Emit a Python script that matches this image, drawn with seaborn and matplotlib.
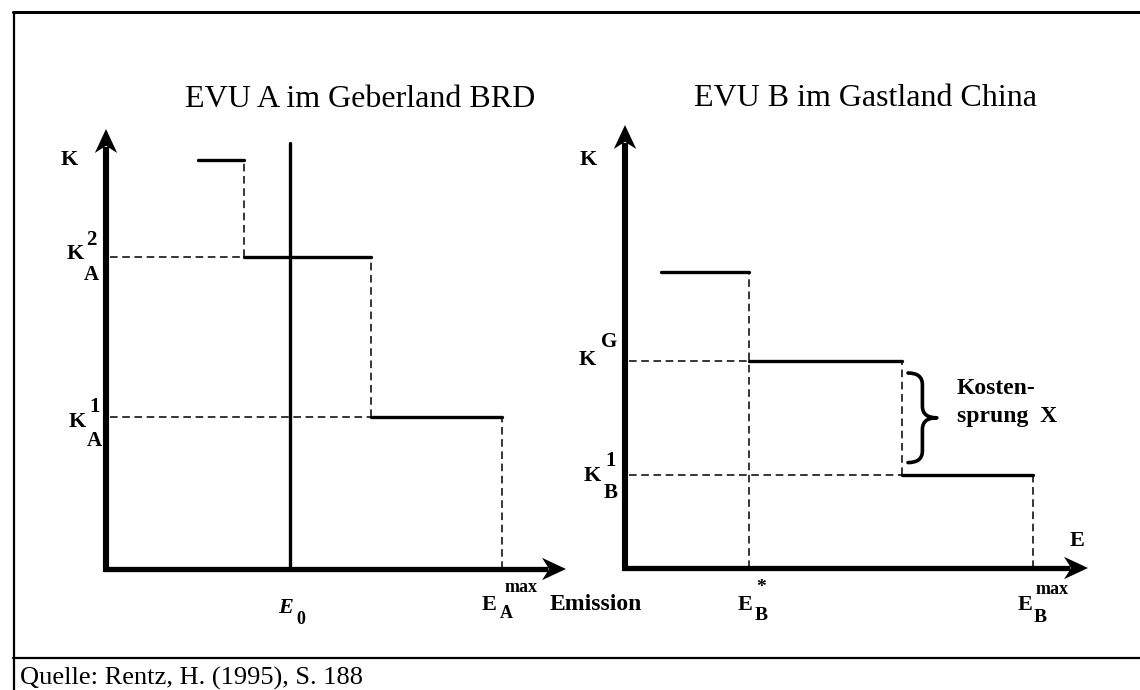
import matplotlib
matplotlib.use("Agg")
import matplotlib.pyplot as plt
import pandas as pd
import seaborn as sns
from matplotlib.lines import Line2D
from matplotlib.path import Path
from matplotlib.patches import PathPatch

# Stufenweise Vermeidungskosten K über Emission E (gleiche Einheiten in beiden Teilbildern)
a_edges = [2.3, 3.45, 6.625, 9.9]     # Stufengrenzen EVU A
a_levels = [10.225, 7.8, 3.8]          # Kostenniveaus EVU A (oberstes, K_A^2, K_A^1)
a_e0 = 4.6                             # E_0
a_e0_top = 10.65
b_edges = [0.9, 3.1, 6.925, 10.2]     # Stufengrenzen EVU B
b_levels = [7.4, 5.175, 2.325]         # Kostenniveaus EVU B (oberstes, K^G, K_B^1)
x_axis_end = [11.5, 11.575]
y_axis_end = [11.0, 11.075]

titles = ["EVU A im Geberland BRD", "EVU B im Gastland China"]
source = "Quelle: Rentz, H. (1995), S. 188"

sns.set_style("white")
plt.rcParams["font.family"] = ["Liberation Serif", "DejaVu Serif"]
plt.rcParams["text.color"] = "black"

DASH = (0, (5, 3))
BOLD = dict(fontweight="bold", ha="center", va="center")


def step_frame(edges, levels):
    rows = []
    for i, k in enumerate(levels):
        rows.append({"seg": i, "E": edges[i], "K": k})
        rows.append({"seg": i, "E": edges[i + 1], "K": k})
    return pd.DataFrame(rows)


def draw_axes(ax, xend, yend):
    # dicke Achsen mit Pfeilspitzen
    ax.plot([0, 0], [-0.07, yend - 0.45], color="black", lw=4.4, solid_capstyle="butt")
    ax.plot([-0.07, xend - 0.45], [0, 0], color="black", lw=3.8, solid_capstyle="butt")
    ax.fill([0, -0.28, 0, 0.28], [yend, yend - 0.6, yend - 0.42, yend - 0.6], color="black", lw=0)
    ax.fill([xend, xend - 0.6, xend - 0.42, xend - 0.6], [0, 0.28, 0, -0.28], color="black", lw=0)


def draw_brace(ax, x0, y_top, y_bot, w):
    ym = (y_top + y_bot) / 2
    xm = x0 + w * 0.5
    q = (y_top - y_bot) * 0.13
    verts = [
        (x0, y_top),
        (xm, y_top), (xm, y_top - q),
        (xm, ym + q),
        (xm, ym), (x0 + w, ym),
        (xm, ym), (xm, ym - q),
        (xm, y_bot + q),
        (xm, y_bot), (x0, y_bot),
    ]
    codes = [Path.MOVETO,
             Path.CURVE3, Path.CURVE3,
             Path.LINETO,
             Path.CURVE3, Path.CURVE3,
             Path.CURVE3, Path.CURVE3,
             Path.LINETO,
             Path.CURVE3, Path.CURVE3]
    ax.add_patch(PathPatch(Path(verts, codes), fill=False, lw=2.6, color="black",
                           capstyle="round", joinstyle="round"))


fig = plt.figure(figsize=(11.4, 6.9), dpi=100)
ax_a = fig.add_axes([26 / 1140, 1 / 690, 560 / 1140, 600 / 690])
ax_b = fig.add_axes([545 / 1140, 2 / 690, 560 / 1140, 600 / 690])
for ax in (ax_a, ax_b):
    ax.set_xlim(-2, 12)
    ax.set_ylim(-3, 12)
    ax.axis("off")

# ---- EVU A ----
sns.lineplot(data=step_frame(a_edges, a_levels), x="E", y="K", units="seg",
             estimator=None, sort=False, color="black", lw=2.4, ax=ax_a, legend=False)
draw_axes(ax_a, x_axis_end[0], y_axis_end[0])
ax_a.plot([a_e0, a_e0], [0, a_e0_top], color="black", lw=2.4)
ax_a.vlines(a_edges[1], a_levels[1], a_levels[0], color="black", lw=1.1, linestyles=DASH)
ax_a.vlines(a_edges[2], a_levels[2], a_levels[1], color="black", lw=1.1, linestyles=DASH)
ax_a.vlines(a_edges[3], 0, a_levels[2], color="black", lw=1.1, linestyles=DASH)
ax_a.hlines(a_levels[1], 0.1, a_edges[1], color="black", lw=1.1, linestyles=DASH)
ax_a.hlines(a_levels[2], 0.1, a_edges[2], color="black", lw=1.1, linestyles=DASH)

ax_a.text(6.35, 11.55, titles[0], fontsize=23, ha="center", va="baseline")
ax_a.text(-0.925, 10.225, "K", fontsize=16, **BOLD)
ax_a.text(-0.775, 7.875, "K", fontsize=16, **BOLD)
ax_a.text(-0.375, 8.225, "2", fontsize=15, **BOLD)
ax_a.text(-0.375, 7.35, "A", fontsize=15, **BOLD)
ax_a.text(-0.725, 3.675, "K", fontsize=16, **BOLD)
ax_a.text(-0.275, 4.05, "1", fontsize=15, **BOLD)
ax_a.text(-0.3, 3.2, "A", fontsize=15, **BOLD)
ax_a.text(4.5, -0.975, "E", fontsize=16, fontstyle="italic", **BOLD)
ax_a.text(4.875, -1.25, "0", fontsize=13, **BOLD)
ax_a.text(9.575, -0.9, "E", fontsize=16, **BOLD)
ax_a.text(10.0, -1.125, "A", fontsize=13, **BOLD)
ax_a.text(10.375, -0.45, "max", fontsize=13, **BOLD)
ax_a.text(12.25, -0.9, "Emission", fontsize=17, **BOLD)

# ---- EVU B ----
sns.lineplot(data=step_frame(b_edges, b_levels), x="E", y="K", units="seg",
             estimator=None, sort=False, color="black", lw=2.4, ax=ax_b, legend=False)
draw_axes(ax_b, x_axis_end[1], y_axis_end[1])
ax_b.vlines(b_edges[1], 0, b_levels[0], color="black", lw=1.1, linestyles=DASH)
ax_b.vlines(b_edges[2], b_levels[2], b_levels[1], color="black", lw=1.1, linestyles=DASH)
ax_b.vlines(b_edges[3], 0, b_levels[2], color="black", lw=1.1, linestyles=DASH)
ax_b.hlines(b_levels[1], 0.1, b_edges[1], color="black", lw=1.1, linestyles=DASH)
ax_b.hlines(b_levels[2], 0.1, b_edges[2], color="black", lw=1.1, linestyles=DASH)
draw_brace(ax_b, b_edges[2] + 0.15, b_levels[1] - 0.3, b_levels[2] + 0.31, 0.72)

ax_b.text(6.025, 11.55, titles[1], fontsize=23, ha="center", va="baseline")
ax_b.text(-0.925, 10.2, "K", fontsize=16, **BOLD)
ax_b.text(-0.95, 5.2, "K", fontsize=16, **BOLD)
ax_b.text(-0.4, 5.65, "G", fontsize=15, **BOLD)
ax_b.text(-0.825, 2.3, "K", fontsize=16, **BOLD)
ax_b.text(-0.35, 2.675, "1", fontsize=15, **BOLD)
ax_b.text(-0.35, 1.875, "B", fontsize=15, **BOLD)
ax_b.text(11.3, 0.675, "E", fontsize=16, **BOLD)
ax_b.text(3.0, -0.925, "E", fontsize=16, **BOLD)
ax_b.text(3.4, -0.5, "*", fontsize=14, **BOLD)
ax_b.text(3.4, -1.175, "B", fontsize=14, **BOLD)
ax_b.text(10.0, -0.925, "E", fontsize=16, **BOLD)
ax_b.text(10.675, -0.55, "max", fontsize=13, **BOLD)
ax_b.text(10.375, -1.25, "B", fontsize=14, **BOLD)
ax_b.text(8.3, 4.35, "Kosten-", fontsize=17, fontweight="bold", ha="left", va="baseline")
ax_b.text(8.3, 3.65, "sprung  X", fontsize=17, fontweight="bold", ha="left", va="baseline")

# Rahmen und Quelle
fig.add_artist(Line2D([13 / 1140, 1], [1 - 12 / 690] * 2, color="black", lw=2.2))
fig.add_artist(Line2D([14 / 1140] * 2, [0, 1 - 12 / 690], color="black", lw=1.6))
fig.add_artist(Line2D([13 / 1140, 1], [1 - 658 / 690] * 2, color="black", lw=1.6))
fig.text(20 / 1140, 1 - 685 / 690, source, fontsize=19, va="baseline")

fig.savefig("out.png", dpi=100)
